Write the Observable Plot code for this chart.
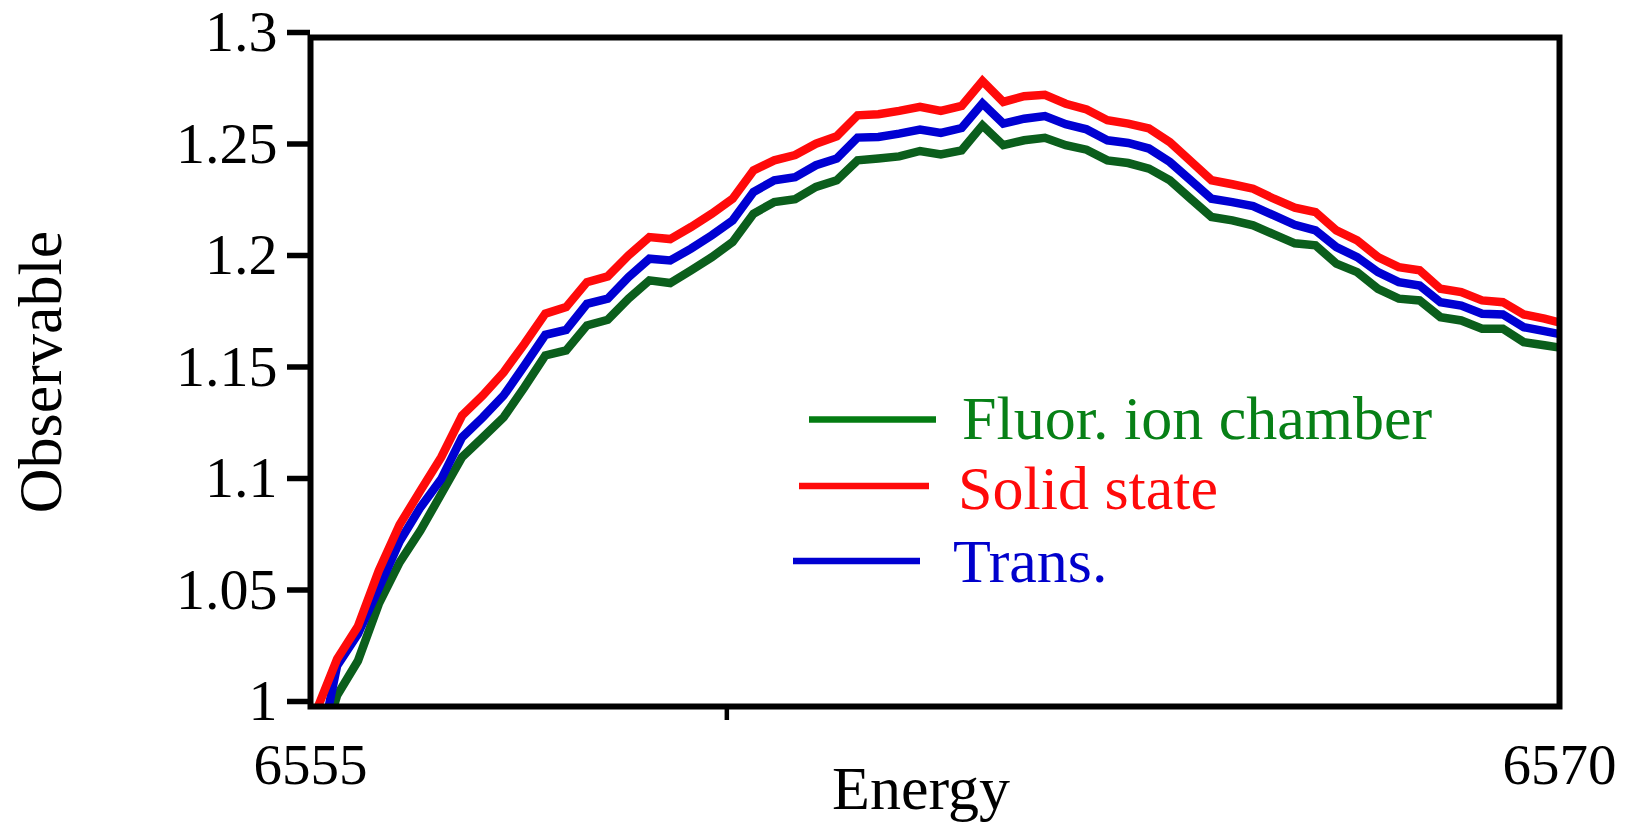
<!DOCTYPE html>
<html>
<head>
<meta charset="utf-8">
<script src="https://cdn.jsdelivr.net/npm/d3@7"></script>
<script src="https://cdn.jsdelivr.net/npm/@observablehq/plot@0.6"></script>
<style>
  html, body { margin: 0; padding: 0; background: #fff; }
  #chart svg { display: block; }
</style>
</head>
<body>
<div id="chart"></div>
<script>
// Energy grid (eV) of the scan
const energies = [
  6555.07, 6555.32, 6555.57, 6555.82, 6556.07, 6556.32, 6556.57, 6556.82, 6557.07, 6557.32,
  6557.57, 6557.82, 6558.07, 6558.32, 6558.57, 6558.82, 6559.07, 6559.32, 6559.57, 6559.82,
  6560.07, 6560.32, 6560.57, 6560.82, 6561.07, 6561.32, 6561.57, 6561.82, 6562.07, 6562.32,
  6562.57, 6562.82, 6563.07, 6563.32, 6563.57, 6563.82, 6564.07, 6564.32, 6564.57, 6564.82,
  6565.07, 6565.32, 6565.57, 6565.82, 6566.07, 6566.32, 6566.57, 6566.82, 6567.07, 6567.32,
  6567.57, 6567.82, 6568.07, 6568.32, 6568.57, 6568.82, 6569.07, 6569.32, 6569.57, 6569.82,
  6570.07
];

// Normalised signal for each detector
const fluorIonChamber = [
  0.974, 1.0050, 1.0205, 1.0460, 1.0646, 1.0789, 1.0953, 1.1118, 1.1207, 1.1297,
  1.1432, 1.1574, 1.1597, 1.1709, 1.1734, 1.1829, 1.1911, 1.1899, 1.1956, 1.2015,
  1.2083, 1.2210, 1.2262, 1.2275, 1.2330, 1.2360, 1.2449, 1.2457, 1.2467, 1.2491,
  1.2476, 1.2494, 1.2606, 1.2517, 1.2539, 1.2550, 1.2517, 1.2497, 1.2449, 1.2437,
  1.2412, 1.2360, 1.2277, 1.2195, 1.2180, 1.2158, 1.2117, 1.2077, 1.2068, 1.1986,
  1.1948, 1.1873, 1.1829, 1.1821, 1.1746, 1.1731, 1.1694, 1.1694, 1.1634, 1.1620,
  1.1605
];
const solidState = [
  0.998, 1.0213, 1.0360, 1.0609, 1.0815, 1.0968, 1.1118, 1.1305, 1.1395, 1.1499,
  1.1627, 1.1762, 1.1791, 1.1903, 1.1929, 1.2023, 1.2105, 1.2096, 1.2150, 1.2210,
  1.2277, 1.2404, 1.2449, 1.2473, 1.2524, 1.2557, 1.2651, 1.2656, 1.2671, 1.2689,
  1.2671, 1.2693, 1.2805, 1.2711, 1.2737, 1.2743, 1.2703, 1.2677, 1.2629, 1.2614,
  1.2592, 1.2531, 1.2446, 1.2360, 1.2342, 1.2322, 1.2277, 1.2237, 1.2217, 1.2135,
  1.2090, 1.2015, 1.1970, 1.1956, 1.1873, 1.1858, 1.1821, 1.1813, 1.1758, 1.1739,
  1.1715
];
const trans = [
  0.973, 1.0183, 1.0325, 1.0530, 1.0740, 1.0893, 1.1020, 1.1207, 1.1297, 1.1395,
  1.1529, 1.1667, 1.1689, 1.1806, 1.1829, 1.1926, 1.2008, 1.2000, 1.2053, 1.2113,
  1.2180, 1.2307, 1.2360, 1.2374, 1.2427, 1.2457, 1.2551, 1.2554, 1.2569, 1.2587,
  1.2572, 1.2594, 1.2704, 1.2614, 1.2636, 1.2648, 1.2611, 1.2588, 1.2539, 1.2527,
  1.2502, 1.2442, 1.2360, 1.2277, 1.2262, 1.2244, 1.2202, 1.2160, 1.2135, 1.2060,
  1.2015, 1.1948, 1.1903, 1.1888, 1.1813, 1.1798, 1.1761, 1.1758, 1.1701, 1.1683,
  1.1665
];

// Series names (legend order) and axis text
const seriesNames = ["Fluor. ion chamber", "Solid state", "Trans."];
const yTicks = [1, 1.05, 1.1, 1.15, 1.2, 1.25, 1.3];
const yTickLabels = ["1", "1.05", "1.1", "1.15", "1.2", "1.25", "1.3"];
const xLabelTicks = [6555, 6570];
const xTickLabels = ["6555", "6570"];
const xMinorTicks = [6560];
const xTitle = "Energy";
const yTitle = "Observable";

// Styling
const lineColors = {"Fluor. ion chamber": "#0b5e1c", "Solid state": "#ff0a0a", "Trans.": "#0000d2"};
const legendLineColors = {"Fluor. ion chamber": "#047c12", "Solid state": "#ff0a0a", "Trans.": "#0000d2"};
const legendTextColors = {"Fluor. ion chamber": "#078016", "Solid state": "#ff0a0a", "Trans.": "#0000cc"};
const FONT = "'Liberation Serif', 'Times New Roman', Times, serif";

// Long-format rows; drawing order green, blue, red (red on top)
const drawOrder = [
  ["Fluor. ion chamber", fluorIonChamber],
  ["Trans.", trans],
  ["Solid state", solidState]
];
const rows = drawOrder.flatMap(([name, vals]) =>
  energies.map((e, i) => ({series: name, energy: e, value: vals[i]})));

// Legend placed inside the frame (pixel layout)
const legendLayout = {
  "Fluor. ion chamber": {x1: 809, x2: 936, y: 419.5, tx: 962, ty: 439},
  "Solid state":        {x1: 799, x2: 929, y: 486,   tx: 958, ty: 509},
  "Trans.":             {x1: 793, x2: 920, y: 561,   tx: 953, ty: 582}
};

function legend() {
  const g = d3.create("svg:g").attr("aria-label", "legend");
  for (const name of seriesNames) {
    const L = legendLayout[name];
    g.append("line")
      .attr("x1", L.x1).attr("x2", L.x2)
      .attr("y1", L.y).attr("y2", L.y)
      .attr("stroke", legendLineColors[name])
      .attr("stroke-width", 6.5);
    g.append("text")
      .attr("x", L.tx).attr("y", L.ty)
      .attr("fill", legendTextColors[name])
      .attr("font-family", FONT)
      .attr("font-size", 62)
      .attr("text-anchor", "start")
      .text(name);
  }
  return g.node();
}

const chart = Plot.plot({
  width: 1636,
  height: 825,
  marginLeft: 310,
  marginRight: 77,
  marginTop: 37,
  marginBottom: 119,
  style: {fontFamily: FONT, color: "black", background: "white", overflow: "visible"},
  x: {domain: [6555, 6570], label: null},
  y: {domain: [1, 1.3], label: null},
  color: {domain: seriesNames, range: seriesNames.map(n => lineColors[n])},
  marks: [
    Plot.line(rows, {
      x: "energy", y: "value", z: "series", stroke: "series",
      strokeWidth: 8.5, strokeLinejoin: "miter", strokeMiterlimit: 10, clip: true
    }),
    Plot.frame({stroke: "black", strokeWidth: 6}),
    Plot.axisY({
      ticks: yTicks, tickFormat: d => yTickLabels[yTicks.indexOf(d)],
      tickSize: 23, tickPadding: 10, strokeWidth: 5.5, fontSize: 58, dy: -5
    }),
    Plot.axisX({
      ticks: xMinorTicks, tickFormat: () => "", tickSize: 14, strokeWidth: 4.5
    }),
    Plot.axisX({
      ticks: xLabelTicks, tickFormat: d => xTickLabels[xLabelTicks.indexOf(d)],
      tickSize: 0, tickPadding: 37, fontSize: 57
    }),
    Plot.text([yTitle], {
      text: d => d, frameAnchor: "left", textAnchor: "middle", lineAnchor: "middle",
      rotate: -90, dx: -269, fontSize: 62
    }),
    Plot.text([xTitle], {
      text: d => d, frameAnchor: "bottom", textAnchor: "middle", lineAnchor: "middle",
      dx: -14, dy: 83, fontSize: 62
    }),
    legend
  ]
});

document.getElementById("chart").appendChild(chart);
</script>
</body>
</html>
